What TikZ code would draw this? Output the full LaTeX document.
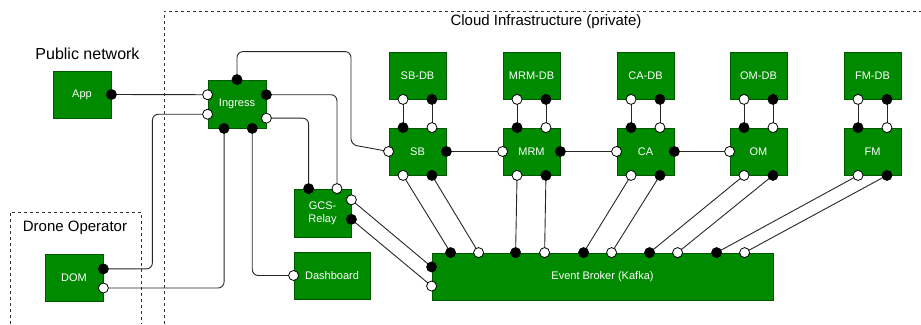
\documentclass[tikz,border=0pt]{standalone}
\usepackage{fontspec}
\setmainfont{Liberation Sans}
\usetikzlibrary{calc}
\definecolor{boxfill}{HTML}{008A00}
\definecolor{boxline}{HTML}{005700}
\tikzset{
  comp/.style={draw=boxline, fill=boxfill, line width=0.8pt, text=white, inner sep=0pt,
    font=\fontsize{11}{13}\selectfont, align=center, minimum width=57pt, minimum height=47pt},
  bport/.style={circle, draw=black, fill=black, line width=0.8pt, minimum size=10pt, inner sep=0pt},
  wport/.style={circle, draw=black, fill=white, line width=0.8pt, minimum size=10pt, inner sep=0pt},
  wire/.style={draw=black!85, line width=0.9pt, rounded corners=6pt},
  frame/.style={draw=black!80, line width=0.8pt, dash pattern=on 3pt off 3pt},
  title/.style={font=\fontsize{15}{18}\selectfont, text=black, inner sep=0pt}
}
\begin{document}
\begin{tikzpicture}[x=1pt, y=-1pt]
\useasboundingbox (0,0) rectangle (921,324);
% frames
\draw[frame] (164,324) -- (164,11) -- (921,11);
\draw[frame] (10,324) -- (10,212) -- (141,212) -- (141,324);
\node[title, font=\fontsize{16}{19}\selectfont] (tpub) at (87.5,53.5) {Public network};
\node[title] (tdrone) at (75,228) {Drone Operator};
\node[title] (tcloud) at (546,22) {Cloud Infrastructure (private)};
% components
\node[comp, minimum width=58pt] (app) at (82,94.5) {App};
\node[comp, minimum width=58pt, minimum height=48pt] (ing) at (237,104) {Ingress};
\node[comp, minimum height=48pt] (gcs) at (322.5,213) {GCS-\\Relay};
\node[comp, minimum width=76pt] (dash) at (332,275.5) {Dashboard};
\node[comp, minimum width=58pt] (dom) at (74,277.5) {DOM};
\node[comp, minimum width=341pt] (eb) at (602.5,276.5) {Event Broker (Kafka)};
\foreach \n/\x in {SB/417.5, MRM/531.5, CA/645.5, OM/758.5, FM/872.5}{
  \node[comp] (\n-DB) at (\x,75.5) {\n-DB};
  \node[comp] (\n) at (\x,151.5) {\n};
}
% port coordinates
\coordinate (appR) at (app.east);
\coordinate (ingT) at (ing.north);
\coordinate (ingL1) at ($(ing.north west)!.31!(ing.south west)$);
\coordinate (ingL2) at ($(ing.north west)!.71!(ing.south west)$);
\coordinate (ingR1) at ($(ing.north east)!.31!(ing.south east)$);
\coordinate (ingR2) at ($(ing.north east)!.79!(ing.south east)$);
\coordinate (ingB1) at ($(ing.south west)!.28!(ing.south east)$);
\coordinate (ingB2) at ($(ing.south west)!.76!(ing.south east)$);
\coordinate (gcsT1) at ($(gcs.north west)!.26!(gcs.north east)$);
\coordinate (gcsT2) at ($(gcs.north west)!.75!(gcs.north east)$);
\coordinate (gcsR1) at ($(gcs.north east)!.23!(gcs.south east)$);
\coordinate (gcsR2) at ($(gcs.north east)!.63!(gcs.south east)$);
\coordinate (dashL) at (dash.west);
\coordinate (domR1) at ($(dom.north east)!.32!(dom.south east)$);
\coordinate (domR2) at ($(dom.north east)!.72!(dom.south east)$);
\coordinate (ebL1) at ($(eb.north west)!.30!(eb.south west)$);
\coordinate (ebL2) at ($(eb.north west)!.70!(eb.south west)$);
\foreach \i/\d in {1/19,2/47,3/84,4/113,5/152,6/180,7/218,8/246,9/285,10/313}{
  \coordinate (ebT\i) at ($(eb.north west)+(\d,0)$);
}
\foreach \n in {SB,MRM,CA,OM,FM}{
  \coordinate (\n-DBa) at ($(\n-DB.south west)!.25!(\n-DB.south east)$);
  \coordinate (\n-DBb) at ($(\n-DB.south west)!.75!(\n-DB.south east)$);
  \coordinate (\n-Ta) at ($(\n.north west)!.25!(\n.north east)$);
  \coordinate (\n-Tb) at ($(\n.north west)!.75!(\n.north east)$);
  \coordinate (\n-Ba) at ($(\n.south west)!.25!(\n.south east)$);
  \coordinate (\n-Bb) at ($(\n.south west)!.75!(\n.south east)$);
  \coordinate (\n-L) at (\n.west);
  \coordinate (\n-R) at (\n.east);
}
% connectors
\draw[wire] (appR) -- (ingL1);
\draw[wire] (domR1) -- ++(49,0) |- (ingL2);
\draw[wire] (domR2) -| (ingB1);
\draw[wire] (ingB2) |- (dashL);
\draw[wire] (ingR1) -| (gcsT2);
\draw[wire] (ingR2) -| (gcsT1);
\draw[wire] (ingT) -- ++(0,-28) -- ++(114,0) -- ++(0,93) -- (SB-L);
\draw[wire] (gcsR1) -- (ebL1);
\draw[wire] (gcsR2) -- (ebL2);
\foreach \n in {SB,MRM,CA,OM,FM}{
  \draw[wire] (\n-DBa) -- (\n-Ta);
  \draw[wire] (\n-DBb) -- (\n-Tb);
}
\draw[wire] (SB-R) -- (MRM-L);
\draw[wire] (MRM-R) -- (CA-L);
\draw[wire] (CA-R) -- (OM-L);
\foreach \n/\a/\b in {SB/1/2, MRM/3/4, CA/5/6, OM/7/8, FM/9/10}{
  \draw[wire] (\n-Ba) -- (ebT\a);
  \draw[wire] (\n-Bb) -- (ebT\b);
}
% ports
\foreach \p in {appR, ingT, ingR1, ingB1, ingB2, gcsT1, gcsR2, domR1, ebL1,
  ebT1, ebT3, ebT5, ebT7, ebT9}{
  \node[bport] at (\p) {};
}
\foreach \p in {ingL1, ingL2, ingR2, gcsT2, gcsR1, dashL, domR2, ebL2,
  ebT2, ebT4, ebT6, ebT8, ebT10}{
  \node[wport] at (\p) {};
}
\foreach \n in {SB,MRM,CA,OM,FM}{
  \node[wport] at (\n-DBa) {};
  \node[bport] at (\n-DBb) {};
  \node[bport] at (\n-Ta) {};
  \node[wport] at (\n-Tb) {};
  \node[wport] at (\n-Ba) {};
  \node[bport] at (\n-Bb) {};
}
\foreach \n in {SB,MRM,CA}{
  \node[bport] at (\n-R) {};
}
\foreach \n in {MRM,CA,OM}{
  \node[wport] at (\n-L) {};
}
\node[wport] at (SB-L) {};
\end{tikzpicture}
\end{document}
